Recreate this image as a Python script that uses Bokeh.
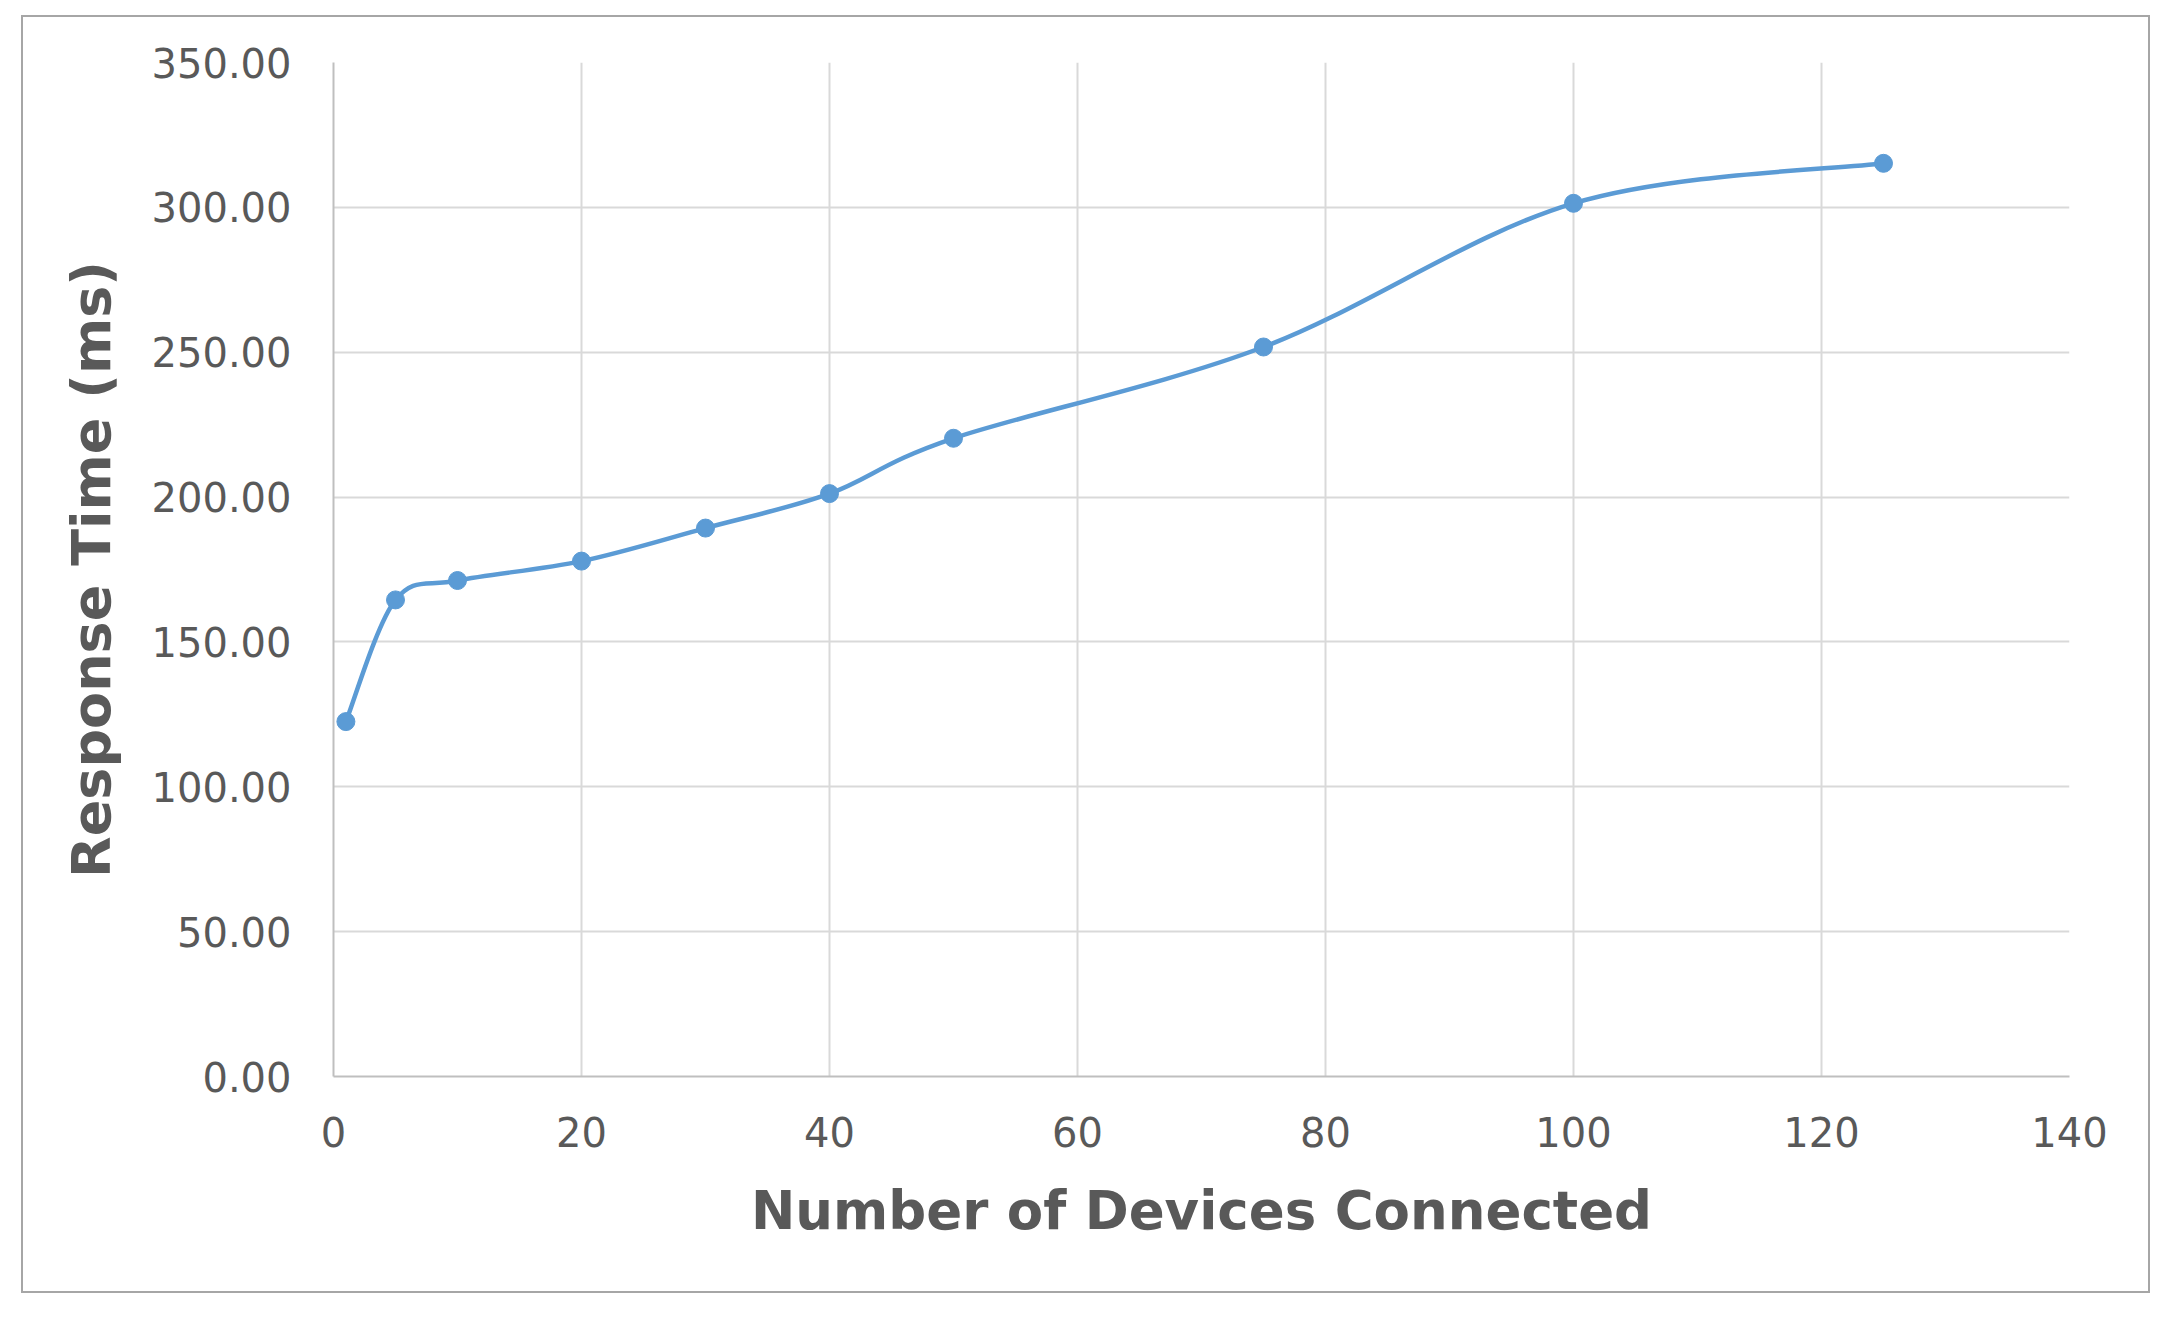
from bokeh.plotting import figure
from bokeh.embed import file_html
from bokeh.resources import INLINE
from bokeh.layouts import column, row
from bokeh.models import FixedTicker, NumeralTickFormatter, Range1d, ColumnDataSource, Spacer

devices = [1, 5, 10, 20, 30, 40, 50, 75, 100, 125]
response_ms = [122.5, 164.5, 171.2, 177.9, 189.3, 201.2, 220.3, 251.8, 301.4, 315.2]
x_ticks = [0, 20, 40, 60, 80, 100, 120, 140]
y_ticks = [0, 50, 100, 150, 200, 250, 300, 350]

TEXT = "#595959"
LINE = "#5b9bd5"

W, H = 2125, 1274
p = figure(width=W, height=H, output_backend="svg", toolbar_location=None,
           x_range=Range1d(0, 140), y_range=Range1d(0, 350),
           min_border_left=310, min_border_right=79, min_border_top=45, min_border_bottom=215)
p.styles = {"outline": "2px solid #a6a6a6"}

# Excel-style smoothed curve: Bezier segments with control points from neighbours
n = len(devices)
x0s, y0s, x1s, y1s, cx0, cy0, cx1, cy1 = [], [], [], [], [], [], [], []
for i in range(n - 1):
    pm = i - 1 if i > 0 else 0
    pp = i + 2 if i + 2 < n else n - 1
    x0s.append(devices[i]); y0s.append(response_ms[i])
    x1s.append(devices[i + 1]); y1s.append(response_ms[i + 1])
    cx0.append(devices[i] + (devices[i + 1] - devices[pm]) / 6)
    cy0.append(response_ms[i] + (response_ms[i + 1] - response_ms[pm]) / 6)
    cx1.append(devices[i + 1] - (devices[pp] - devices[i]) / 6)
    cy1.append(response_ms[i + 1] - (response_ms[pp] - response_ms[i]) / 6)

src = ColumnDataSource(dict(x0=x0s, y0=y0s, x1=x1s, y1=y1s, cx0=cx0, cy0=cy0, cx1=cx1, cy1=cy1))
p.bezier(x0="x0", y0="y0", x1="x1", y1="y1", cx0="cx0", cy0="cy0", cx1="cx1", cy1="cy1",
         source=src, line_color=LINE, line_width=4.5)
p.scatter(devices, response_ms, size=18, fill_color=LINE, line_color=LINE)

p.xaxis.ticker = FixedTicker(ticks=x_ticks)
p.yaxis.ticker = FixedTicker(ticks=y_ticks)
p.yaxis.formatter = NumeralTickFormatter(format="0.00")

p.xgrid.ticker = FixedTicker(ticks=x_ticks)
p.ygrid.ticker = FixedTicker(ticks=y_ticks)
for g in (p.xgrid, p.ygrid):
    g.grid_line_color = "#d9d9d9"
    g.grid_line_width = 2

p.outline_line_color = None

for ax in (p.xaxis, p.yaxis):
    ax.axis_line_color = "#bfbfbf"
    ax.axis_line_width = 2
    ax.major_tick_line_color = None
    ax.minor_tick_line_color = None
    ax.major_tick_out = 0
    ax.major_tick_in = 0
    ax.major_label_text_font = "DejaVu Sans"
    ax.major_label_text_font_size = "40px"
    ax.major_label_text_color = TEXT
    ax.axis_label_text_font = "DejaVu Sans"
    ax.axis_label_text_font_style = "bold"
    ax.axis_label_text_color = TEXT

p.xaxis.axis_label_text_font_size = "53px"
p.yaxis.axis_label_text_font_size = "54px"
p.xaxis.axis_label = "Number of Devices Connected"
p.yaxis.axis_label = "Response Time (ms)"
p.xaxis.major_label_standoff = 40
p.yaxis.major_label_standoff = 42
p.xaxis.axis_label_standoff = 30
p.yaxis.axis_label_standoff = 26

layout = column(Spacer(width=10, height=17), row(Spacer(width=23, height=10), p))
open("out.html", "w").write(file_html(layout, INLINE))
